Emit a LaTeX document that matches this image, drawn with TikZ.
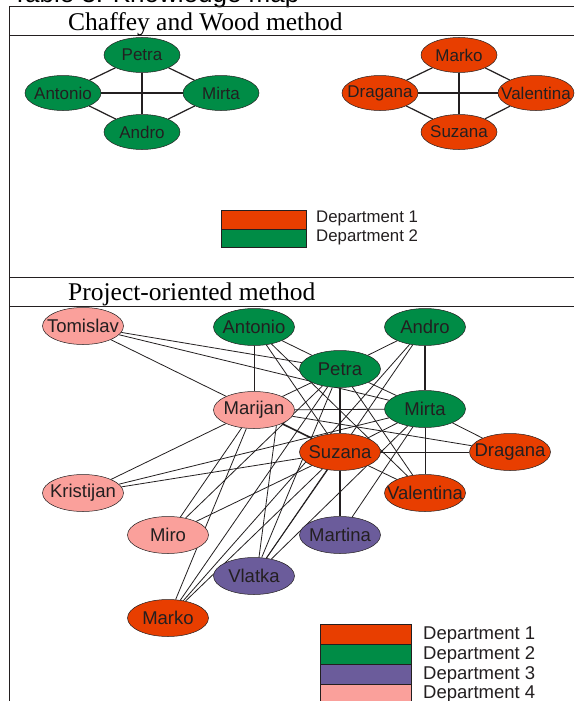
\documentclass[tikz,border=0pt]{standalone}
\usepackage{fontspec}
\setmainfont{Liberation Serif}
\setsansfont{Liberation Sans}
\usetikzlibrary{shapes.geometric,backgrounds}
\definecolor{dOne}{RGB}{232,62,0}
\definecolor{dTwo}{RGB}{0,140,70}
\definecolor{dThree}{RGB}{107,92,155}
\definecolor{dFour}{RGB}{250,160,155}
\definecolor{ink}{RGB}{35,31,32}
\begin{document}
\begin{tikzpicture}[x=1pt,y=-1pt,
  frameline/.style={draw=ink, line width=0.9pt},
  tnode/.style={ellipse, draw=ink, line width=0.5pt, minimum width=76pt, minimum height=35pt, inner sep=0pt},
  bnode/.style={ellipse, draw=ink, line width=0.5pt, minimum width=81pt, minimum height=37pt, inner sep=0pt},
  ttext/.style={font=\fontsize{17}{19}\selectfont\sffamily, text=ink, inner sep=0pt},
  btext/.style={font=\fontsize{18.5}{20}\selectfont\sffamily, text=ink, inner sep=0pt},
  tedge/.style={draw=ink, line width=1.2pt},
  bedge/.style={draw=ink, line width=0.8pt},
  bthick/.style={draw=ink, line width=1.6pt},
  legbox/.style={draw=ink, line width=0.8pt},
  tlegtext/.style={font=\fontsize{16.8}{18}\selectfont\sffamily, text=ink, inner sep=0pt, anchor=west},
  blegtext/.style={font=\fontsize{18.5}{20}\selectfont\sffamily, text=ink, inner sep=0pt, anchor=west},
  ttl/.style={font=\fontsize{25.5}{28}\selectfont\rmfamily, text=black, inner sep=0pt, anchor=base west},
]
\useasboundingbox (0,0) rectangle (574,701);

% caption (cut off at the top)
\node[font=\fontsize{26}{28}\selectfont\sffamily, text=black, inner sep=0pt, anchor=base west] (caption) at (12,2.5) {Table 3. Knowledge map};

% table frame
\coordinate (fTL) at (9,6);
\coordinate (fTR) at (574,6);
\coordinate (fAL) at (9,35);
\coordinate (fAR) at (574,35);
\coordinate (fBL) at (9,277);
\coordinate (fBR) at (574,277);
\coordinate (fCL) at (9,306);
\coordinate (fCR) at (574,306);
\coordinate (fBot) at (9,701);
\draw[frameline] (fTL) -- (fTR);
\draw[frameline] (fAL) -- (fAR);
\draw[frameline] (fBL) -- (fBR);
\draw[frameline] (fCL) -- (fCR);
\draw[frameline] (fTL) -- (fBot);

\node[ttl] (titleA) at (68,31) {Chaffey and Wood method};
\node[ttl] (titleB) at (68,300) {Project-oriented method};

% ---------- Chaffey and Wood: nodes ----------
\node[tnode, fill=dTwo] (tPetra) at (142,55) {};
\node[tnode, fill=dTwo] (tAntonio) at (63,93) {};
\node[tnode, fill=dTwo] (tMirta) at (221,93) {};
\node[tnode, fill=dTwo] (tAndro) at (142,132) {};
\node[tnode, fill=dOne] (tMarko) at (459,55) {};
\node[tnode, fill=dOne] (tDragana) at (380,93) {};
\node[tnode, fill=dOne] (tValentina) at (536,93) {};
\node[tnode, fill=dOne] (tSuzana) at (459,132) {};
\node[ttext] (tPetraL) at (tPetra) {Petra};
\node[ttext] (tAntonioL) at (tAntonio) {Antonio};
\node[ttext] (tMirtaL) at (tMirta) {Mirta};
\node[ttext] (tAndroL) at (tAndro) {Andro};
\node[ttext] (tMarkoL) at (tMarko) {Marko};
\node[ttext] (tDraganaL) at (tDragana) {Dragana};
\node[ttext] (tValentinaL) at (tValentina) {Valentina};
\node[ttext] (tSuzanaL) at (tSuzana) {Suzana};

% top legend
\node[legbox, fill=dOne, minimum width=85pt, minimum height=19pt, inner sep=0pt, anchor=north west] (tLegA) at (221,210) {};
\node[legbox, fill=dTwo, minimum width=85pt, minimum height=18pt, inner sep=0pt, anchor=north west] (tLegB) at (221,229) {};
\node[tlegtext] (tLegAL) at (316,218) {Department 1};
\node[tlegtext] (tLegBL) at (316,237) {Department 2};

% ---------- Project-oriented: nodes ----------
\node[bnode, fill=dFour] (T) at (83,326) {};
\node[bnode, fill=dTwo] (A) at (254,327) {};
\node[bnode, fill=dTwo] (N) at (425,327) {};
\node[bnode, fill=dTwo] (P) at (340,369) {};
\node[bnode, fill=dFour] (J) at (254,410) {};
\node[bnode, fill=dTwo] (M) at (425,409) {};
\node[bnode, fill=dOne] (S) at (340,452) {};
\node[bnode, fill=dOne] (D) at (510,452) {};
\node[bnode, fill=dFour] (K) at (83,493) {};
\node[bnode, fill=dOne] (V) at (425,493) {};
\node[bnode, fill=dFour] (R) at (168,535) {};
\node[bnode, fill=dThree] (Mt) at (340,535) {};
\node[bnode, fill=dThree] (Vl) at (254,576) {};
\node[bnode, fill=dOne] (Mk) at (168,618) {};
\node[btext] (TL) at (T) {Tomislav};
\node[btext] (AL) at (A) {Antonio};
\node[btext] (NL) at (N) {Andro};
\node[btext] (PL) at (P) {Petra};
\node[btext] (JL) at (J) {Marijan};
\node[btext] (ML) at (M) {Mirta};
\node[btext] (SL) at (S) {Suzana};
\node[btext] (DL) at (D) {Dragana};
\node[btext] (KL) at (K) {Kristijan};
\node[btext] (VL) at (V) {Valentina};
\node[btext] (RL) at (R) {Miro};
\node[btext] (MtL) at (Mt) {Martina};
\node[btext] (VlL) at (Vl) {Vlatka};
\node[btext] (MkL) at (Mk) {Marko};

% bottom legend
\node[legbox, fill=dOne, minimum width=91pt, minimum height=20pt, inner sep=0pt, anchor=north west] (bLegA) at (320,624) {};
\node[legbox, fill=dTwo, minimum width=91pt, minimum height=20pt, inner sep=0pt, anchor=north west] (bLegB) at (320,644) {};
\node[legbox, fill=dThree, minimum width=91pt, minimum height=20pt, inner sep=0pt, anchor=north west] (bLegC) at (320,664) {};
\node[legbox, fill=dFour, minimum width=91pt, minimum height=20pt, inner sep=0pt, anchor=north west] (bLegD) at (320,684) {};
\node[blegtext] (bLegAL) at (423,635) {Department 1};
\node[blegtext] (bLegBL) at (423,655) {Department 2};
\node[blegtext] (bLegCL) at (423,675) {Department 3};
\node[blegtext] (bLegDL) at (423,694) {Department 4};

% ---------- connectors (behind the nodes) ----------
\begin{scope}[on background layer]
\fill[white] (0,0) rectangle (574,701);
\draw[tedge] (tPetra) -- (tAntonio);
\draw[tedge] (tPetra) -- (tMirta);
\draw[tedge] (tAndro) -- (tAntonio);
\draw[tedge] (tAndro) -- (tMirta);
\draw[tedge] (tAntonio) -- (tMirta);
\draw[tedge] (tPetra) -- (tAndro);
\draw[tedge] (tMarko) -- (tDragana);
\draw[tedge] (tMarko) -- (tValentina);
\draw[tedge] (tSuzana) -- (tDragana);
\draw[tedge] (tSuzana) -- (tValentina);
\draw[tedge] (tDragana) -- (tValentina);
\draw[tedge] (tMarko) -- (tSuzana);

\draw[bedge] (T) -- (P);
\draw[bedge] (T) -- (M);
\draw[bedge] (T) -- (J);
\draw[bedge] (A) -- (J);
\draw[bedge] (A) -- (P);
\draw[bedge] (A) -- (S);
\draw[bedge] (A) -- (V);
\draw[bedge] (N) -- (P);
\draw[bthick] (N) -- (M);
\draw[bedge] (N) -- (Vl);
\draw[bedge] (N) -- (Mk);
\draw[bedge] (P) -- (J);
\draw[bedge] (P) -- (M);
\draw[bthick] (P) -- (S);
\draw[bedge] (P) -- (V);
\draw[bedge] (P) -- (R);
\draw[bedge] (P) -- (Vl);
\draw[bedge] (P) -- (Mk);
\draw[bthick] (J) -- (S);
\draw[bedge] (J) -- (D);
\draw[bedge] (J) -- (M);
\draw[bedge] (J) -- (K);
\draw[bedge] (J) -- (R);
\draw[bedge] (J.-35) -- (Vl.75);
\draw[bedge] (J) -- (Mk);
\draw[bedge] (M) -- (K);
\draw[bedge] (M) -- (D);
\draw[bedge] (M) -- (V);
\draw[bedge] (M) -- (S);
\draw[bedge] (M) -- (Mt);
\draw[bedge] (M) -- (Vl);
\draw[bedge] (S) -- (D);
\draw[bedge] (S) -- (V);
\draw[bedge] (S) -- (K);
\draw[bedge] (S) -- (R);
\draw[bedge] (S) -- (Vl);
\draw[bedge] (S) -- (Mk);
\draw[bthick] (S) -- (Mt);
\end{scope}
\end{tikzpicture}
\end{document}
